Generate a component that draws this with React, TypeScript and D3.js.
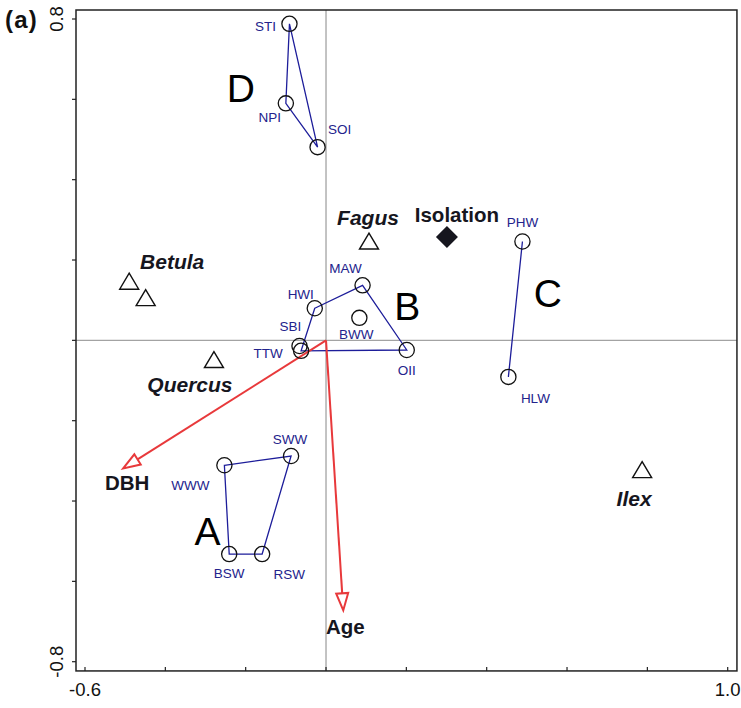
import React from "react";
import * as d3 from "d3";

// ---- data (ordination scores) ----
const siteNames = ["STI", "NPI", "SOI", "MAW", "HWI", "BWW", "SBI", "TTW", "OII", "PHW", "HLW", "SWW", "WWW", "BSW", "RSW"];
const siteX = [-0.091, -0.100, -0.021, 0.091, -0.028, 0.083, -0.066, -0.062, 0.201, 0.489, 0.454, -0.087, -0.253, -0.241, -0.159];
const siteY = [0.788, 0.590, 0.481, 0.137, 0.080, 0.056, -0.014, -0.026, -0.024, 0.246, -0.091, -0.288, -0.311, -0.532, -0.532];

// convex hulls of site groups (site names, in drawing order)
const groupNames = ["A", "B", "C", "D"];
const groupHulls = [
  ["WWW", "SWW", "RSW", "BSW"],
  ["HWI", "MAW", "OII", "TTW"],
  ["PHW", "HLW"],
  ["STI", "SOI", "NPI"],
];
const groupLabelX = [-0.295, 0.202, 0.552, -0.212];
const groupLabelY = [-0.475, 0.085, 0.118, 0.628];

const speciesNames = ["Betula", "", "Quercus", "Fagus", "Ilex"];
const speciesX = [-0.490, -0.449, -0.279, 0.107, 0.787];
const speciesY = [0.146, 0.105, -0.049, 0.246, -0.323];

const envArrowNames = ["DBH", "Age"];
const envArrowX = [-0.505, 0.043];
const envArrowY = [-0.319, -0.672];

const envPointNames = ["Isolation"];
const envPointX = [0.301];
const envPointY = [0.257];

const xTickValues = [-0.6, -0.4, -0.2, 0, 0.2, 0.4, 0.6, 0.8, 1.0];
const yTickValues = [-0.8, -0.6, -0.4, -0.2, 0, 0.2, 0.4, 0.6, 0.8];
const xTickLabels = ["-0.6", "1.0"];
const yTickLabels = ["-0.8", "0.8"];

// ---- layout / style ----
const W = 741;
const H = 708;
const FONT = "'Liberation Sans', Arial, Helvetica, sans-serif";
const siteLabelOffsets: [number, number][] = [
  [-24, 2], [-16, 14], [22, -18], [-17, -17], [-14, -14], [-3, 16], [-9, -20], [-33, 2],
  [0, 20], [0, -19], [27, 21], [-1, -17], [-34, 20], [0, 19], [27, 20],
];
const speciesLabelOffsets: [number, number][] = [
  [43, -20], [0, 0], [-24, 24], [-1, -24], [-8, 28],
];
const envArrowLabelOffsets: [number, number][] = [[4, 14], [2, 17]];
const envPointLabelOffsets: [number, number][] = [[10, -22]];

const SITE_COLOR = "#23238c";
const HULL_COLOR = "#1d1d9a";
const RED = "#e8393b";
const INK = "#16161e";

export default function App() {
  const x = d3.scaleLinear().domain([-0.6, 1.0]).range([85, 727.7]);
  const y = d3.scaleLinear().domain([-0.8, 0.8]).range([661.7, 19]);
  const fx0 = x(-0.6224), fx1 = x(1.023), fy0 = y(0.8224), fy1 = y(-0.823);

  const siteIndex = new Map(siteNames.map((n, i) => [n, i]));
  const hullLine = d3
    .line<string>()
    .x((n) => x(siteX[siteIndex.get(n)!]))
    .y((n) => y(siteY[siteIndex.get(n)!]))
    .curve(d3.curveLinearClosed);

  const tri = (cx: number, cy: number) => {
    const p = d3.path();
    p.moveTo(cx, cy - 8.5);
    p.lineTo(cx + 9.5, cy + 7.5);
    p.lineTo(cx - 9.5, cy + 7.5);
    p.closePath();
    return p.toString();
  };

  const arrow = (i: number) => {
    const x0 = x(0), y0 = y(0);
    const x1 = x(envArrowX[i]), y1 = y(envArrowY[i]);
    const ang = Math.atan2(y1 - y0, x1 - x0);
    const len = 17, hw = 6;
    const bx = x1 - len * Math.cos(ang), by = y1 - len * Math.sin(ang);
    const nx = -Math.sin(ang), ny = Math.cos(ang);
    const head = d3.path();
    head.moveTo(x1, y1);
    head.lineTo(bx + nx * hw, by + ny * hw);
    head.lineTo(bx - nx * hw, by - ny * hw);
    head.closePath();
    return (
      <g key={"arr" + i}>
        <line x1={x0} y1={y0} x2={bx} y2={by} stroke={RED} strokeWidth={2} />
        <path d={head.toString()} fill="white" stroke={RED} strokeWidth={2} strokeLinejoin="miter" />
        <text
          x={x1 + envArrowLabelOffsets[i][0]}
          y={y1 + envArrowLabelOffsets[i][1]}
          dy="0.35em"
          textAnchor="middle"
          fontFamily={FONT}
          fontWeight="bold"
          fontSize={20.5}
          fill={INK}
        >
          {envArrowNames[i]}
        </text>
      </g>
    );
  };

  return (
    <svg
      width={W}
      height={H}
      style={{ position: "absolute", left: 0, top: 0, background: "white" }}
    >
      <rect x={0} y={0} width={W} height={H} fill="white" />
      {/* zero lines */}
      <line x1={x(0)} x2={x(0)} y1={fy0} y2={fy1} stroke="#a3a3a3" strokeWidth={1.3} />
      <line x1={fx0} x2={fx1} y1={y(0)} y2={y(0)} stroke="#a3a3a3" strokeWidth={1.3} />

      {/* frame */}
      <rect x={fx0} y={fy0} width={fx1 - fx0} height={fy1 - fy0} fill="none" stroke="#222" strokeWidth={1.5} />
      {xTickValues.map((v) => (
        <line key={"xt" + v} x1={x(v)} x2={x(v)} y1={fy1} y2={fy1 - 4} stroke="#222" strokeWidth={1.2} />
      ))}
      {yTickValues.map((v) => (
        <line key={"yt" + v} x1={fx0} x2={fx0 - 4} y1={y(v)} y2={y(v)} stroke="#222" strokeWidth={1.2} />
      ))}
      {xTickLabels.map((t) => (
        <text key={"xl" + t} x={x(+t)} y={fy1 + 25} textAnchor="middle" fontFamily={FONT} fontSize={18.5} fill="#111">
          {t}
        </text>
      ))}
      {yTickLabels.map((t) => (
        <text
          key={"yl" + t}
          transform={`translate(${fx0 - 13},${y(+t)}) rotate(-90)`}
          textAnchor="middle"
          fontFamily={FONT}
          fontSize={18.5}
          fill="#111"
        >
          {t}
        </text>
      ))}
      <text x={5} y={28} fontFamily={FONT} fontWeight="bold" fontSize={24} letterSpacing={1.2} fill="#111">
        (a)
      </text>

      {/* hulls */}
      {groupHulls.map((h, i) => (
        <path key={"hull" + i} d={hullLine(h)!} fill="none" stroke={HULL_COLOR} strokeWidth={1.3} />
      ))}
      {groupNames.map((g, i) => (
        <text
          key={"g" + g}
          x={x(groupLabelX[i])}
          y={y(groupLabelY[i])}
          dy="0.36em"
          textAnchor="middle"
          fontFamily={FONT}
          fontSize={39}
          fill="#000"
        >
          {g}
        </text>
      ))}

      {/* env arrows */}
      {envArrowNames.map((_, i) => arrow(i))}

      {/* sites */}
      {siteNames.map((n, i) => (
        <g key={"s" + n}>
          <circle cx={x(siteX[i])} cy={y(siteY[i])} r={7.6} fill="none" stroke="#111" strokeWidth={1.3} />
          <text
            x={x(siteX[i]) + siteLabelOffsets[i][0]}
            y={y(siteY[i]) + siteLabelOffsets[i][1]}
            dy="0.36em"
            textAnchor="middle"
            fontFamily={FONT}
            fontSize={13.5}
            fill={SITE_COLOR}
          >
            {n}
          </text>
        </g>
      ))}

      {/* species */}
      {speciesNames.map((n, i) => (
        <g key={"sp" + i}>
          <path d={tri(x(speciesX[i]), y(speciesY[i]))} fill="white" stroke="#111" strokeWidth={1.4} />
          {n && (
            <text
              x={x(speciesX[i]) + speciesLabelOffsets[i][0]}
              y={y(speciesY[i]) + speciesLabelOffsets[i][1]}
              dy="0.36em"
              textAnchor="middle"
              fontFamily={FONT}
              fontWeight="bold"
              fontStyle="italic"
              fontSize={21}
              fill={INK}
            >
              {n}
            </text>
          )}
        </g>
      ))}

      {/* env point */}
      {envPointNames.map((n, i) => {
        const cx = x(envPointX[i]), cy = y(envPointY[i]);
        return (
          <g key={"ep" + n}>
            <path d={`M${cx},${cy - 11}L${cx + 11},${cy}L${cx},${cy + 11}L${cx - 11},${cy}Z`} fill={INK} />
            <text
              x={cx + envPointLabelOffsets[i][0]}
              y={cy + envPointLabelOffsets[i][1]}
              dy="0.36em"
              textAnchor="middle"
              fontFamily={FONT}
              fontWeight="bold"
              fontSize={20.5}
              fill={INK}
            >
              {n}
            </text>
          </g>
        );
      })}
    </svg>
  );
}
